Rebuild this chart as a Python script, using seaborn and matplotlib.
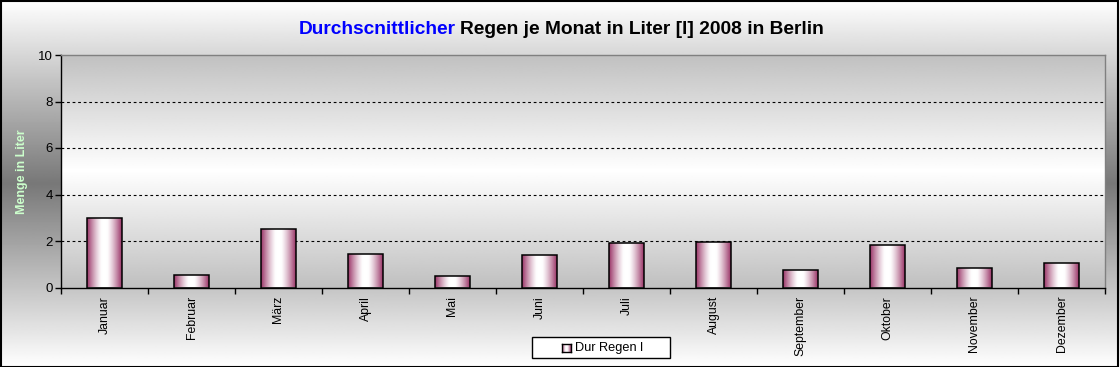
import numpy as np
import pandas as pd
import matplotlib
matplotlib.use("Agg")
import matplotlib.pyplot as plt
from matplotlib.patches import Rectangle
from matplotlib.colors import to_rgb
import seaborn as sns

# ---------------- data ----------------
months = ["Januar", "Februar", "März", "April", "Mai", "Juni", "Juli",
          "August", "September", "Oktober", "November", "Dezember"]
rain = [2.98, 0.53, 2.51, 1.43, 0.48, 1.39, 1.90, 1.95, 0.74, 1.82, 0.83, 1.04]
series_name = "Dur Regen l"
y_ticks = [0, 2, 4, 6, 8, 10]
title_blue = "Durchscnittlicher"
title_rest = "Regen je Monat in Liter [l] 2008 in Berlin"
y_label = "Menge in Liter"

df = pd.DataFrame({"Monat": months, "Regen": rain})

sns.set_theme(style="white")
plt.rcParams["font.family"] = ["Liberation Sans", "DejaVu Sans"]
plt.rcParams["text.color"] = "black"
plt.rcParams["xtick.color"] = "black"
plt.rcParams["ytick.color"] = "black"

W, H = 1120, 367
fig = plt.figure(figsize=(W / 100, H / 100), dpi=100)

# figure background gradient (white -> grey -> white, vertical)
bg = fig.add_axes([0, 0, 1, 1], zorder=-5)
yy = np.linspace(0, 1, 400)
lev = np.where(yy < 0.5, 1 - yy / 0.5, (yy - 0.5) / 0.5)  # 1 at edges, 0 mid
val = (120 + 135 * lev) / 255.0
bg.imshow(np.repeat(val[:, None], 2, axis=1), cmap="gray", vmin=0, vmax=1,
          aspect="auto", extent=[0, 1, 0, 1], interpolation="bilinear")
bg.set_axis_off()

# main axes
left, right = 61 / W, 1105 / W
bottom, top = 1 - 287.5 / H, 1 - 55 / H
ax = fig.add_axes([left, bottom, right - left, top - bottom])
ax.patch.set_visible(False)

sns.barplot(data=df, x="Monat", y="Regen", ax=ax, width=0.395,
            facecolor="none", edgecolor="black", linewidth=1.1, zorder=3)

ax.set_xlim(-0.5, len(months) - 0.5)
ax.set_ylim(0, 10)

# plot area gradient (grey -> white -> grey)
pv = np.linspace(0, 1, 400)
plev = np.abs(pv - 0.5) / 0.5
pval = (255 - 63 * plev) / 255.0
ax.imshow(np.repeat(pval[:, None], 2, axis=1), cmap="gray", vmin=0, vmax=1,
          aspect="auto", extent=[-0.5, len(months) - 0.5, 0, 10],
          interpolation="bilinear", zorder=0)

# cylinder-like gradient fill for bars
base = np.array(to_rgb("#993366"))
t = np.linspace(0, 1, 200)
d = np.abs(t - 0.5) * 2
c = np.clip((d - 0.15) / 0.85, 0, 1) ** 1.3
grad = (1 - c)[:, None] * np.ones(3) + c[:, None] * base
grad_img = grad[None, :, :]
for p in ax.patches:
    x0, w, h = p.get_x(), p.get_width(), p.get_height()
    im = ax.imshow(grad_img, aspect="auto", extent=[x0, x0 + w, 0, h],
                   interpolation="bilinear", zorder=2.5)
    im.set_clip_path(p)
ax.set_xlim(-0.5, len(months) - 0.5)
ax.set_ylim(0, 10)

# grid
for yv in y_ticks[1:-1]:
    ax.axhline(yv, color="black", lw=0.8, ls=(0, (2.5, 2.5)), zorder=1)

# spines
for s in ["left", "bottom"]:
    ax.spines[s].set_color("black")
    ax.spines[s].set_linewidth(1.0)
for s in ["top", "right"]:
    ax.spines[s].set_color("#808080")
    ax.spines[s].set_linewidth(1.0)
ax.spines["bottom"].set_zorder(4)

# ticks
ax.set_yticks(y_ticks)
ax.set_yticklabels([str(v) for v in y_ticks], fontsize=9.5, color="black")
ax.set_xticks(np.arange(-0.5, len(months), 1.0))
ax.set_xticklabels([])
ax.set_xticks(np.arange(len(months)), minor=True)
ax.set_xticklabels(months, minor=True, rotation=90, fontsize=8.8,
                   color="black")
ax.tick_params(axis="x", which="major", direction="out", length=4, width=1,
               color="black", bottom=True)
ax.tick_params(axis="x", which="minor", length=0, pad=6)
ax.tick_params(axis="y", direction="out", length=4, width=1, color="black",
               left=True, pad=2)
ax.set_xlabel("")
ax.set_ylabel("")

# y label
fig.text(22 / W, 1 - 172 / H, y_label, rotation=90, ha="center", va="center",
         color="#ccffcc", fontsize=9, fontweight="bold")

# title in two colours
fs = 13.8
t1 = fig.text(0, 1 - 34.5 / H, title_blue, color="#0000ff", fontsize=fs,
              fontweight="bold", va="baseline", ha="left")
t2 = fig.text(0, 1 - 34.5 / H, title_rest, color="black", fontsize=fs,
              fontweight="bold", va="baseline", ha="left")
fig.canvas.draw()
r = fig.canvas.get_renderer()
w1 = t1.get_window_extent(r).width
w2 = t2.get_window_extent(r).width
gap = 0.2 * fs * 100 / 72
total = w1 + gap + w2
x0 = 561.5 - total / 2
t1.set_x(x0 / W)
t2.set_x((x0 + w1 + gap) / W)

# legend box (drawn by hand to match the original frame)
leg_x0, leg_x1 = 532, 670
leg_y0, leg_y1 = 337, 358
fig.patches.append(Rectangle((leg_x0 / W, 1 - leg_y1 / H),
                             (leg_x1 - leg_x0) / W, (leg_y1 - leg_y0) / H,
                             transform=fig.transFigure, facecolor="white",
                             edgecolor="black", lw=1.0, zorder=5))
sq = fig.add_axes([562 / W, 1 - 352 / H, 8.5 / W, 8.5 / H], zorder=6)
sq.imshow(grad_img, aspect="auto", interpolation="bilinear")
sq.set_xticks([]); sq.set_yticks([])
for s in sq.spines.values():
    s.set_color("black"); s.set_linewidth(1.0)
fig.text(575 / W, 1 - 347.5 / H, series_name, fontsize=9.2, va="center",
         ha="left", color="black", zorder=7)

# outer figure frame
fig.patches.append(Rectangle((0.0005, 0.001), 0.998, 0.997,
                             transform=fig.transFigure, fill=False,
                             edgecolor="black", lw=1.5, zorder=10))

fig.savefig("out.png", dpi=100)
